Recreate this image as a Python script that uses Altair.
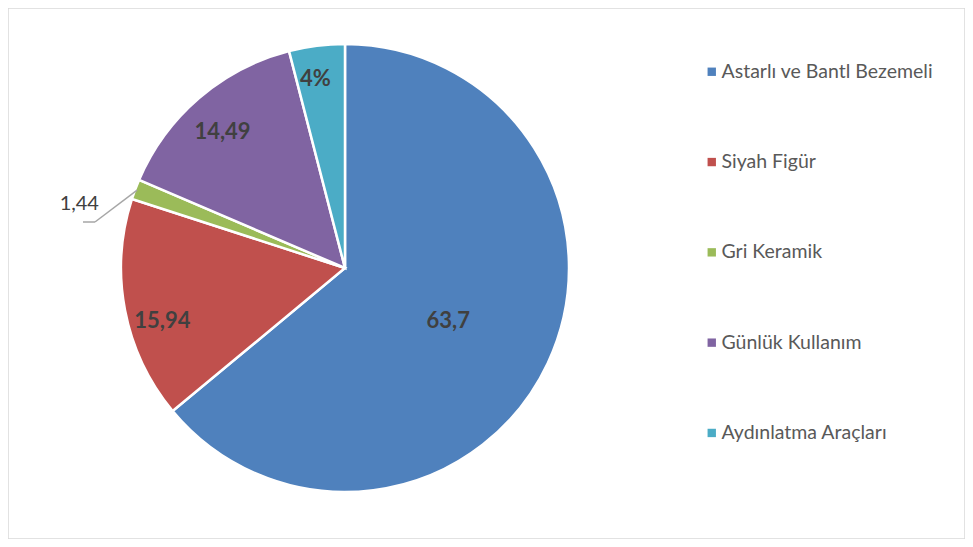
import altair as alt
import pandas as pd
import math

categories = ["Astarlı ve Bantl Bezemeli", "Siyah Figür", "Gri Keramik", "Günlük Kullanım", "Aydınlatma Araçları"]
values = [63.7, 15.94, 1.44, 14.49, 4.0]
labels = ["63,7", "15,94", "1,44", "14,49", "4%"]
colors = ["#4F81BD", "#C0504D", "#9BBB59", "#8064A2", "#4BACC6"]

df = pd.DataFrame({"cat": categories, "val": values, "lab": labels, "ord": list(range(len(categories)))})
total = sum(values)

CX, CY, R = 337, 260, 224
FONT = "Lato"

tscale = alt.Scale(domain=[0, total], range=[0, 2 * math.pi])

def base():
    return alt.Chart(df).transform_window(
        cum="sum(val)", sort=[alt.SortField("ord")]
    ).transform_calculate(
        start="datum.cum - datum.val", mid="datum.cum - datum.val / 2"
    ).encode(x=alt.value(CX), y=alt.value(CY))

color = alt.Color("cat:N", scale=alt.Scale(domain=categories, range=colors), sort=None,
                  legend=alt.Legend(title=None, orient="none", legendX=694, legendY=54,
                                    symbolType="square", symbolSize=70, symbolStrokeWidth=0,
                                    labelFontSize=19.5, labelFont=FONT, labelColor="#595959",
                                    rowPadding=69.3, labelOffset=0, labelLimit=300))

arcs = base().mark_arc(radius=R, stroke="white", strokeWidth=2.5).encode(
    theta=alt.Theta("start:Q", scale=tscale), theta2="cum:Q", color=color)

def txt(i, **kw):
    return base().transform_filter(f"datum.ord == {i}").mark_text(font=FONT, color="#404040", **kw).encode(
        theta=alt.Theta("mid:Q", scale=tscale, stack=None), text="lab:N")

t0 = txt(0, radius=114, fontSize=22, fontWeight="bold", dy=5)
t1 = txt(1, radius=188, fontSize=22, fontWeight="bold", dx=2, dy=18)
t3 = txt(3, radius=188, fontSize=22, fontWeight="bold", dy=7)
t4 = txt(4, radius=188, fontSize=22, fontWeight="bold", dx=-6, dy=-2)
t2 = txt(2, radius=272, fontSize=20, dx=-11, dy=31)

# leader line for the small slice, derived from its angle
start = sum(values[:2]) / total * 2 * math.pi
midang = start + values[2] / total * math.pi
ex = CX + (R - 2) * math.sin(midang)
ey = CY - (R - 2) * math.cos(midang)
kx, ky = 87, 214
leader1 = alt.Chart(df).transform_filter("datum.ord == 2").mark_rule(color="#A6A6A6", strokeWidth=1.5).encode(
    x=alt.value(ex), y=alt.value(ey), x2=alt.value(kx), y2=alt.value(ky))
leader2 = alt.Chart(df).transform_filter("datum.ord == 2").mark_rule(color="#A6A6A6", strokeWidth=1.5).encode(
    x=alt.value(kx), y=alt.value(ky), x2=alt.value(kx - 12), y2=alt.value(ky))

chart = alt.layer(arcs, leader1, leader2, t0, t1, t3, t4, t2).properties(
    width=957, height=531,
    autosize=alt.AutoSizeParams(type="fit", contains="padding"),
    padding=0,
).configure_view(stroke="#D9D9D9", strokeWidth=1.5)

chart.save("out.html", embed_options={"renderer": "svg", "actions": False})
